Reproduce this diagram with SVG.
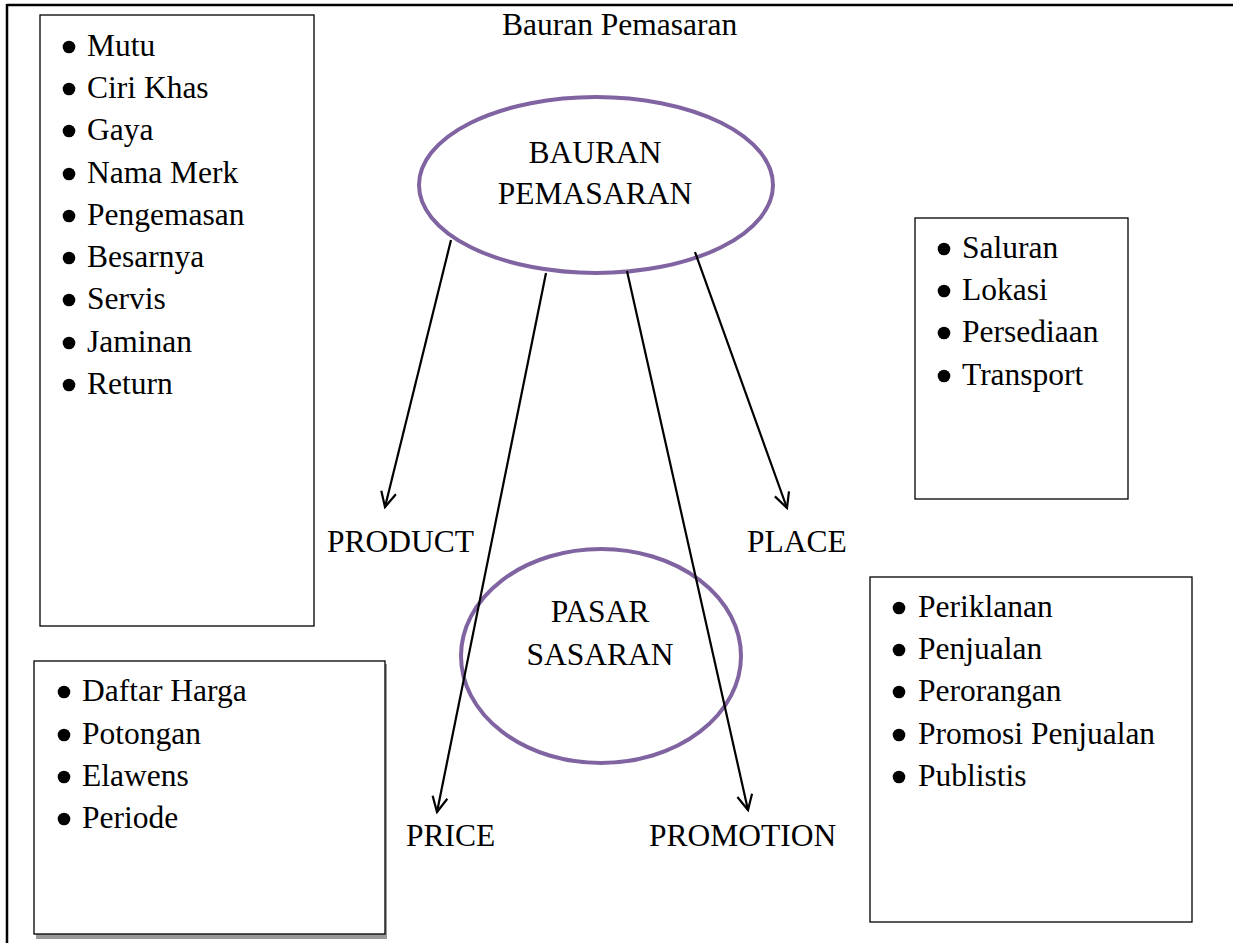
<svg xmlns="http://www.w3.org/2000/svg" width="1233" height="943" viewBox="0 0 1233 943">
<defs>
<marker id="arr" markerWidth="18" markerHeight="18" refX="16" refY="9" orient="auto" markerUnits="userSpaceOnUse">
<path d="M1,1.5 L16,9 L1,16.5" fill="none" stroke="#000" stroke-width="2.2"/>
</marker>
</defs>
<style>
text{font-family:"Liberation Serif","Times New Roman",serif;font-size:31.5px;fill:#000}
.box{fill:#fff;stroke:#000;stroke-width:1.3}
.ell{fill:none;stroke:#8064a2;stroke-width:4}
.conn{stroke:#000;stroke-width:2.2;fill:none;marker-end:url(#arr)}
.mid{text-anchor:middle}
.b{fill:#000}
</style>
<rect width="1233" height="943" fill="#fff"/>
<g id="frame">
<line x1="7" y1="5" x2="1233" y2="5" stroke="#000" stroke-width="2.5"/>
<line x1="7" y1="4" x2="7" y2="943" stroke="#000" stroke-width="2.5"/>
</g>
<text id="title" x="502" y="35">Bauran Pemasaran</text>
<g id="product-box">
<rect class="box" x="40" y="15" width="274" height="611"/>
<g class="b"><circle cx="69" cy="47" r="6.3"/><circle cx="69" cy="89" r="6.3"/><circle cx="69" cy="131" r="6.3"/><circle cx="69" cy="174" r="6.3"/><circle cx="69" cy="216" r="6.3"/><circle cx="69" cy="258" r="6.3"/><circle cx="69" cy="300" r="6.3"/><circle cx="69" cy="343" r="6.3"/><circle cx="69" cy="385" r="6.3"/></g>
<text x="87" y="56">Mutu</text>
<text x="87" y="98">Ciri Khas</text>
<text x="87" y="140">Gaya</text>
<text x="87" y="183">Nama Merk</text>
<text x="87" y="225">Pengemasan</text>
<text x="87" y="267">Besarnya</text>
<text x="87" y="309">Servis</text>
<text x="87" y="352">Jaminan</text>
<text x="87" y="394">Return</text>
</g>
<g id="price-box">
<rect x="36" y="664" width="351" height="275" fill="#999"/>
<rect class="box" x="34" y="661" width="351" height="273" stroke-width="1.8"/>
<g class="b"><circle cx="64" cy="692" r="6.3"/><circle cx="64" cy="735" r="6.3"/><circle cx="64" cy="777" r="6.3"/><circle cx="64" cy="819" r="6.3"/></g>
<text x="82" y="701">Daftar Harga</text>
<text x="82" y="744">Potongan</text>
<text x="82" y="786">Elawens</text>
<text x="82" y="828">Periode</text>
</g>
<g id="place-box">
<rect class="box" x="915" y="218" width="213" height="281"/>
<g class="b"><circle cx="944" cy="249" r="6.3"/><circle cx="944" cy="291" r="6.3"/><circle cx="944" cy="333" r="6.3"/><circle cx="944" cy="376" r="6.3"/></g>
<text x="962" y="258">Saluran</text>
<text x="962" y="300">Lokasi</text>
<text x="962" y="342">Persediaan</text>
<text x="962" y="385">Transport</text>
</g>
<g id="promotion-box">
<rect class="box" x="870" y="577" width="322" height="345"/>
<g class="b"><circle cx="899" cy="608" r="6.3"/><circle cx="899" cy="650" r="6.3"/><circle cx="899" cy="692" r="6.3"/><circle cx="899" cy="735" r="6.3"/><circle cx="899" cy="777" r="6.3"/></g>
<text x="918" y="617">Periklanan</text>
<text x="918" y="659">Penjualan</text>
<text x="918" y="701">Perorangan</text>
<text x="918" y="744">Promosi Penjualan</text>
<text x="918" y="786">Publistis</text>
</g>
<g id="bauran">
<ellipse class="ell" cx="596" cy="185" rx="177" ry="88"/>
<text class="mid" x="595" y="163">BAURAN</text>
<text class="mid" x="595" y="204">PEMASARAN</text>
</g>
<g id="pasar">
<ellipse class="ell" cx="601" cy="656" rx="140" ry="107"/>
<text class="mid" x="600" y="622">PASAR</text>
<text class="mid" x="600" y="665">SASARAN</text>
</g>
<g id="labels">
<text x="327" y="552">PRODUCT</text>
<text x="747" y="552">PLACE</text>
<text x="406" y="846">PRICE</text>
<text x="649" y="846">PROMOTION</text>
</g>
<g id="connectors">
<line class="conn" x1="451" y1="240" x2="385" y2="507"/>
<line class="conn" x1="546" y1="273" x2="437" y2="812"/>
<line class="conn" x1="627" y1="271" x2="748" y2="810"/>
<line class="conn" x1="695" y1="252" x2="787" y2="508"/>
</g>
</svg>
